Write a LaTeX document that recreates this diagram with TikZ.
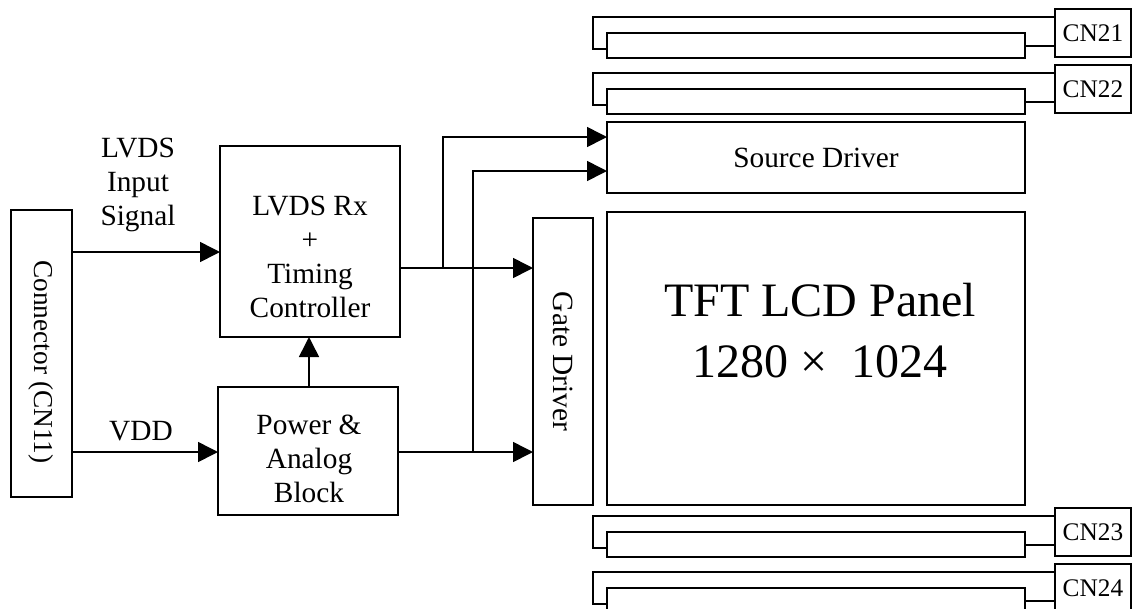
\documentclass[tikz,border=0pt]{standalone}
\usepackage{fontspec}
\setmainfont{Liberation Serif}
\usetikzlibrary{arrows.meta}
\begin{document}
\begin{tikzpicture}[x=0.75pt,y=-0.75pt,
  box/.style={draw, line width=1.2pt, inner sep=0pt, outer sep=0pt, anchor=north west},
  arr/.style={line width=1.2pt, -{Triangle[length=15pt,width=15pt]}},
  ln/.style={line width=1.2pt},
  lbl/.style={font=\fontsize{22}{25.5}\selectfont, align=center, inner sep=0pt},
  cnl/.style={font=\fontsize{19}{22}\selectfont, inner sep=0pt},
  big/.style={font=\fontsize{36}{45.75}\selectfont, align=center, inner sep=0pt}]
\useasboundingbox (0,0) rectangle (1133,608);
\clip (0,0) rectangle (1133,608);
\newcommand\pxbox[5]{\node[box, minimum width=#4*0.75pt, minimum height=#5*0.75pt] (#1) at (#2,#3) {};}
% main boxes
\pxbox{conn}{11}{210}{61}{287}
\pxbox{lvds}{220}{146}{180}{191}
\pxbox{power}{218}{387}{180}{128}
\pxbox{gate}{533}{218}{60}{287}
\pxbox{panel}{607}{212}{418}{293}
\pxbox{source}{607}{122}{418}{71}
% flex connectors
\foreach \n/\t in {21/9, 22/65, 23/508, 24/564}{
  \pxbox{in\n}{607}{\t+24}{418}{25}
  \pxbox{cn\n}{1055}{\t}{76}{48}
  \node[cnl] at (cn\n.center) {CN\n};
  \coordinate (b\n) at (593,\t+40);
  \coordinate (c\n) at (0,\t+37);
  \draw[ln] (cn\n.north west) ++(0,8) -| (b\n) -- (in\n.west |- b\n);
  \draw[ln] (in\n.east |- c\n) -- (cn\n.west |- c\n);
}
% texts
\node[lbl, font=\fontsize{20.5}{24}\selectfont, rotate=-90] at (41,362) {Connector (CN11)};
\node[lbl] at (310,256.5) {LVDS Rx\\+\\Timing\\Controller};
\node[lbl] at (309,458.5) {Power \&\\Analog\\Block};
\node[lbl] at (source.center) {Source Driver};
\node[lbl, rotate=-90] at (gate.center) {Gate Driver};
\node[big] at (820,331) {TFT LCD Panel\\1280 × \ 1024};
\node[lbl] at (138,185) {LVDS\\Input\\Signal};
\node[lbl] at (141,431.5) {VDD};
% connectors
\coordinate (ysig) at (0,252);
\coordinate (yvdd) at (0,452);
\coordinate (xup) at (309,0);
\coordinate (yout) at (0,268);
\coordinate (ys1) at (443,137);
\coordinate (ys2) at (473,171);
\draw[arr] (conn.east |- ysig) -- (lvds.west |- ysig);
\draw[arr] (conn.east |- yvdd) -- (power.west |- yvdd);
\draw[arr] (power.north -| xup) -- (lvds.south -| xup);
\draw[arr] (lvds.east |- yout) -- (gate.west |- yout);
\draw[arr] (power.east |- yvdd) -- (gate.west |- yvdd);
\draw[arr] (ys1 |- yout) -- (ys1) -- (source.west |- ys1);
\draw[arr] (ys2 |- yvdd) -- (ys2) -- (source.west |- ys2);
\end{tikzpicture}
\end{document}
